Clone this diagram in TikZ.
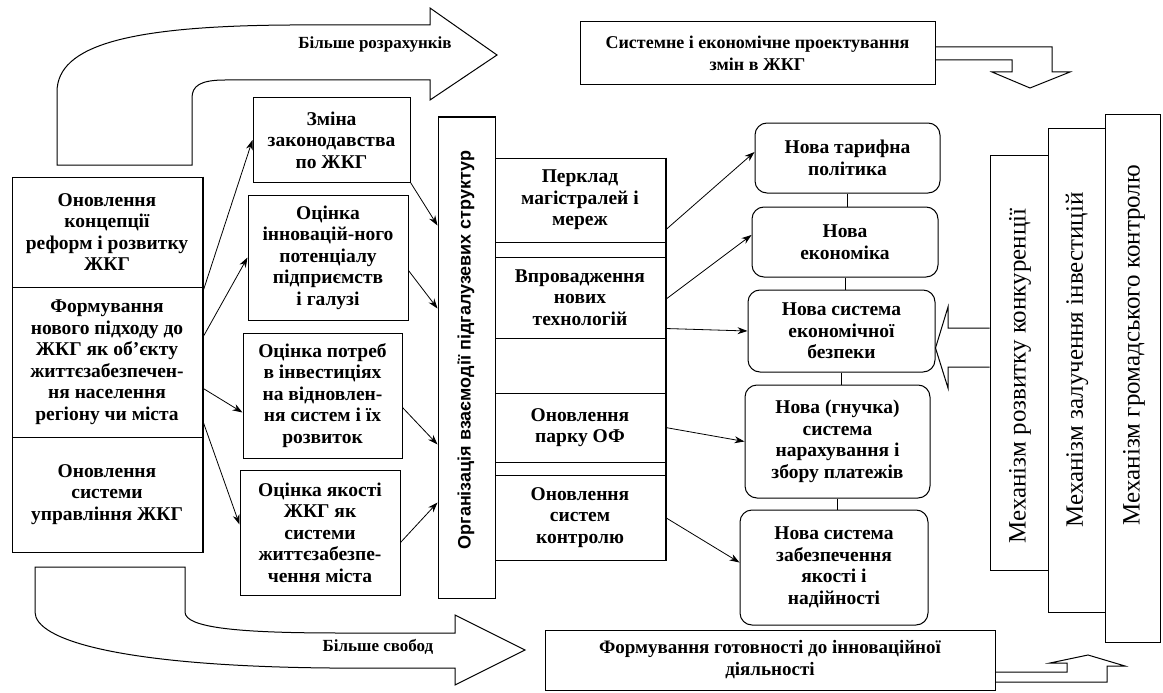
\documentclass[tikz,border=0pt]{standalone}
\usepackage{fontspec}
\setmainfont{Liberation Serif}
\setsansfont{Liberation Sans}
\usetikzlibrary{arrows.meta}
\begin{document}
\begin{tikzpicture}[x=1pt,y=-1pt,
  box/.style={draw, line width=1pt, inner sep=0pt, align=center,
    font=\bfseries\fontsize{19.5}{21.5}\selectfont},
  rbox/.style={box, rounded corners=12pt},
  plain/.style={draw, line width=1pt, inner sep=0pt},
  lbl/.style={inner sep=0pt, align=center, font=\bfseries\fontsize{17}{21}\selectfont},
  mtxt/.style={inner sep=0pt, rotate=90, font=\fontsize{25}{28}\selectfont},
  arr/.style={line width=0.8pt, -{Stealth[length=10pt,width=7pt]}},
  blk/.style={line width=1pt, line join=miter},
  heavy/.style={line width=2pt}]
\useasboundingbox (0,0) rectangle (1163,693);

% top curved block arrow
\draw[blk] (57,165) -- (57,92) .. controls (57,45) and (130,26) .. (290,25) -- (430,25)
  -- (430,8) -- (497,55) -- (430,100) -- (430,80) -- (225,80)
  .. controls (200,80) and (192,86) .. (192,98) -- (192,165) -- cycle;
\node[lbl] (tl) at (375,44) {Більше розрахунків};

% top box and down arrow
\node[box, minimum width=355pt, minimum height=63pt,
  font=\bfseries\fontsize{18}{22}\selectfont] (T) at (757.5,53.5)
  {Системне і економічне проектування\\змін в ЖКГ};
\draw[blk] (T.east |- 0,47) -- (1052,47) -- (1052,72) -- (1070,72) -- (1030,88)
  -- (992,72) -- (1012,72) -- (1012,60) -- (T.east |- 0,60);

% left column
\node[box, minimum width=190pt, minimum height=110pt] (L1) at (107,232)
  {Оновлення\\концепції\\реформ і розвитку\\ЖКГ};
\node[box, minimum width=190pt, minimum height=150pt] (L2) at (107,362)
  {Формування\\нового підходу до\\ЖКГ як об’єкту\\життєзабезпечен-\\ня населення\\регіону чи міста};
\node[box, minimum width=190pt, minimum height=115pt] (L3) at (107,494.5)
  {Оновлення\\системи\\управління ЖКГ};
\draw[heavy] (L1.north east) -- (L3.south east);

% second column
\node[box, minimum width=157pt, minimum height=84pt] (A) at (331.5,140)
  {Зміна\\законодавства\\по ЖКГ};
\node[box, minimum width=160pt, minimum height=125pt] (B) at (328,257.5)
  {Оцінка\\інновацій-ного\\потенціалу\\підприємств\\і галузі};
\node[box, minimum width=159pt, minimum height=125pt] (C) at (322.5,395.5)
  {Оцінка потреб\\в інвестиціях\\на відновлен-\\ня систем і їх\\розвиток};
\node[box, minimum width=160pt, minimum height=125pt] (D) at (320,532.5)
  {Оцінка якості\\ЖКГ як\\системи\\життєзабезпе-\\чення міста};

% vertical organisation box
\node[plain, minimum width=57pt, minimum height=481pt] (O) at (466.5,357.5) {};
\node[inner sep=0pt, rotate=90, font=\sffamily\bfseries\fontsize{18}{22}\selectfont] (Ot) at (466,350)
  {Організація взаємодії підгалузевих структур};

% third column
\node[box, minimum width=170pt, minimum height=84pt] (P1) at (580,200)
  {Перклад\\магістралей і\\мереж};
\node[plain, minimum width=170pt, minimum height=15pt] (S1) at (580,249.5) {};
\node[box, minimum width=170pt, minimum height=81pt] (P2) at (580,297.5)
  {Впровадження\\нових\\технологій};
\node[plain, minimum width=170pt, minimum height=55pt] (P3) at (580,365.5) {};
\node[box, minimum width=170pt, minimum height=69pt] (P4) at (580,427.5)
  {Оновлення\\парку ОФ};
\node[plain, minimum width=170pt, minimum height=13pt] (S2) at (580,468.5) {};
\node[box, minimum width=170pt, minimum height=85pt] (P5) at (580,517.5)
  {Оновлення\\систем\\контролю};
\draw[heavy] (P1.north east) -- (P5.south east);

% right rounded column
\node[rbox, minimum width=185pt, minimum height=70pt] (R1) at (847.5,158)
  {Нова тарифна\\політика};
\node[rbox, minimum width=186pt, minimum height=70pt] (R2) at (845,242)
  {Нова\\економіка};
\node[rbox, minimum width=187pt, minimum height=82pt] (R3) at (841.5,331)
  {Нова система\\економічної\\безпеки};
\node[rbox, minimum width=185pt, minimum height=113pt] (R4) at (837.5,441.5)
  {Нова (гнучка)\\система\\нарахування і\\збору платежів};
\node[rbox, minimum width=188pt, minimum height=115pt] (R5) at (834,567.5)
  {Нова система\\забезпечення\\якості і\\надійності};
\draw[line width=1pt] (R1.south) -- (R1.south |- R2.north);
\draw[line width=1pt] (R2.south) -- (R2.south |- R3.north);
\draw[line width=1pt] (R3.south) -- (R3.south |- R4.north);
\draw[line width=1pt] (R4.south) -- (R4.south |- R5.north);

% mechanism boxes
\node[plain, minimum width=58pt, minimum height=415pt] (M1) at (1019,362.5) {};
\node[plain, minimum width=57pt, minimum height=484pt] (M2) at (1076.5,370) {};
\node[plain, minimum width=55pt, minimum height=527pt] (M3) at (1132.5,378.5) {};
\node[mtxt] (M1t) at (1020,376) {Механізм розвитку конкуренції};
\node[mtxt] (M2t) at (1077,360) {Механізм залучення інвестицій};
\node[mtxt] (M3t) at (1134,345) {Механізм громадського контролю};

% block arrow into R3
\draw[blk] (M1.west |- 0,328) -- (948,328) -- (948,307) -- ([yshift=-17pt]R3.east)
  -- (948,388) -- (948,367) -- (M1.west |- 0,367);

% bottom curved block arrow
\draw[blk] (35,567) -- (185,567) -- (185,612) .. controls (185,628) and (240,633) .. (340,633)
  -- (455,633) -- (455,615) -- (525,650) -- (455,685) -- (455,668) -- (330,668)
  .. controls (120,666) and (35,640) .. (35,612) -- cycle;
\node[lbl] (bl) at (378,647) {Більше свобод};

% bottom box and up arrow
\node[box, minimum width=450pt, minimum height=60pt,
  font=\bfseries\fontsize{19}{22}\selectfont] (F) at (770,660)
  {Формування готовності до інноваційної\\діяльності};
\draw[blk] (F.east |- 0,672) -- (1067,672) -- (1067,663) -- (1050,663) -- (1088,655)
  -- (1125,666) -- (1107,666) -- (1107,682) -- (F.east |- 0,682);

% arrows left -> second column
\draw[arr] ([yshift=69pt]L2.east) -- (A.west);
\draw[arr] ([yshift=24pt]L2.east) -- (B.west);
\draw[arr] ([yshift=-26pt]L2.east) -- ([yshift=-17pt]C.west);
\draw[arr] ([yshift=-58pt]L2.east) -- ([yshift=8pt]D.west);

% second column -> organisation
\draw[arr] (A.south east) -- ([yshift=132pt]O.west);
\draw[arr] ([yshift=-13pt]B.east) -- ([yshift=49pt]O.west);
\draw[arr] ([yshift=-12pt]C.east) -- ([yshift=-87pt]O.west);
\draw[arr] ([yshift=-10pt]D.east) -- ([yshift=-145pt]O.west);

% third column -> right column
\draw[arr] ([yshift=-30pt]P1.east) -- ([yshift=6pt]R1.west);
\draw[arr] ([yshift=-2pt]P2.east) -- ([yshift=7pt]R2.west);
\draw[arr] ([yshift=-31pt]P2.east) -- (R3.west);
\draw[arr] (P4.east) -- (R4.west);
\draw[arr] (P5.east) -- ([yshift=5pt]R5.west);
\end{tikzpicture}
\end{document}
